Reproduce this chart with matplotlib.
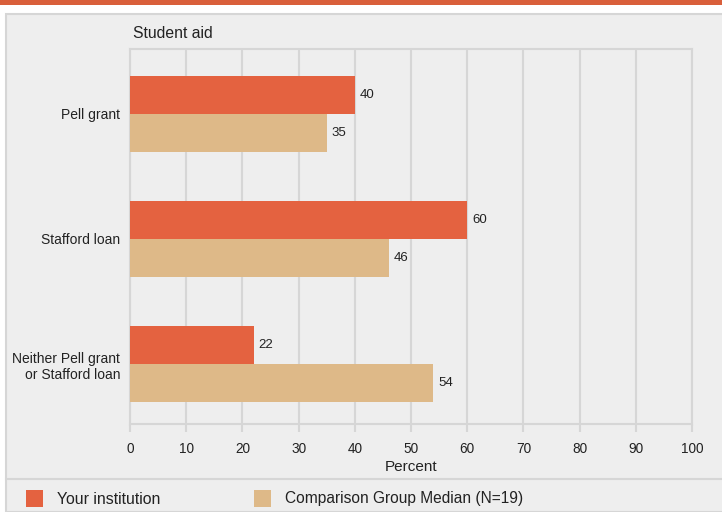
import matplotlib.pyplot as plt
from matplotlib.patches import Rectangle

categories = ["Pell grant", "Stafford loan", "Neither Pell grant\nor Stafford loan"]
your_inst = [40, 60, 22]
comparison = [35, 46, 54]
xticks = [0, 10, 20, 30, 40, 50, 60, 70, 80, 90, 100]

ORANGE = "#E46240"
TAN = "#DEB988"
BAND = "#D95F3B"
PANEL = "#EEEEEE"
LINE = "#D6D6D6"
TXT = "#222222"

plt.rcParams["font.family"] = ["Liberation Sans", "DejaVu Sans"]

W, H = 722, 512
fig = plt.figure(figsize=(W / 100, H / 100), dpi=100)
fig.patch.set_facecolor("white")

# top band and grey panel
fig.patches.append(Rectangle((0, 1 - 5 / H), 1, 5 / H, transform=fig.transFigure,
                             facecolor=BAND, edgecolor="none", zorder=-5))
fig.patches.append(Rectangle((6 / W, 0), 1, 1 - 14 / H, transform=fig.transFigure,
                             facecolor=PANEL, edgecolor=LINE, linewidth=1.5, zorder=-5))
# separator above legend
fig.add_artist(plt.Line2D([6 / W, 1], [1 - 479 / H, 1 - 479 / H],
                          transform=fig.transFigure, color=LINE, linewidth=1.5, zorder=-4))

left, right, top, bottom = 130, 692, 49, 424
ax = fig.add_axes([left / W, 1 - bottom / H, (right - left) / W, (bottom - top) / H])
ax.set_zorder(2)
ax.set_facecolor(PANEL)

n = len(categories)
centers = [i + 0.52 for i in range(n)]
h = 0.305
ax.barh([c - h / 2 for c in centers], your_inst, height=h, color=ORANGE, zorder=3)
ax.barh([c + h / 2 for c in centers], comparison, height=h, color=TAN, zorder=3)

for c, v in zip(centers, your_inst):
    ax.annotate(str(v), (v, c - h / 2), xytext=(3.5, 0), textcoords="offset points",
                va="center", ha="left", fontsize=9.5, color=TXT)
for c, v in zip(centers, comparison):
    ax.annotate(str(v), (v, c + h / 2), xytext=(3.5, 0), textcoords="offset points",
                va="center", ha="left", fontsize=9.5, color=TXT)

ax.set_xlim(0, 100)
ax.set_ylim(n, 0)
ax.set_xticks(xticks)
ax.set_xticklabels([str(t) for t in xticks], fontsize=9.8, color=TXT)
ax.set_yticks(centers)
ax.set_yticklabels(categories, fontsize=10, color=TXT)
ax.tick_params(axis="y", length=0, pad=7)
ax.tick_params(axis="x", length=6, width=1.5, color=LINE, pad=7)
ax.grid(axis="x", color=LINE, linewidth=1.5, zorder=0)
ax.set_axisbelow(True)
for s in ax.spines.values():
    s.set_color(LINE)
    s.set_linewidth(1.5)

ax.set_xlabel("Percent", fontsize=11, color=TXT, labelpad=3)

fig.text(133 / W, 1 - 33 / H, "Student aid", fontsize=11.3, va="center", ha="left", color=TXT)

# legend
fig.patches.append(Rectangle((26 / W, 1 - 507 / H), 17 / W, 17 / H, transform=fig.transFigure,
                             facecolor=ORANGE, edgecolor="none"))
fig.text(57 / W, 1 - 499 / H, "Your institution", fontsize=11.4, va="center", color=TXT)
fig.patches.append(Rectangle((254 / W, 1 - 507 / H), 17 / W, 17 / H, transform=fig.transFigure,
                             facecolor=TAN, edgecolor="none"))
fig.text(285 / W, 1 - 499 / H, "Comparison Group Median (N=19)", fontsize=11.2, va="center",
         color=TXT)

fig.savefig("out.png", dpi=100)
